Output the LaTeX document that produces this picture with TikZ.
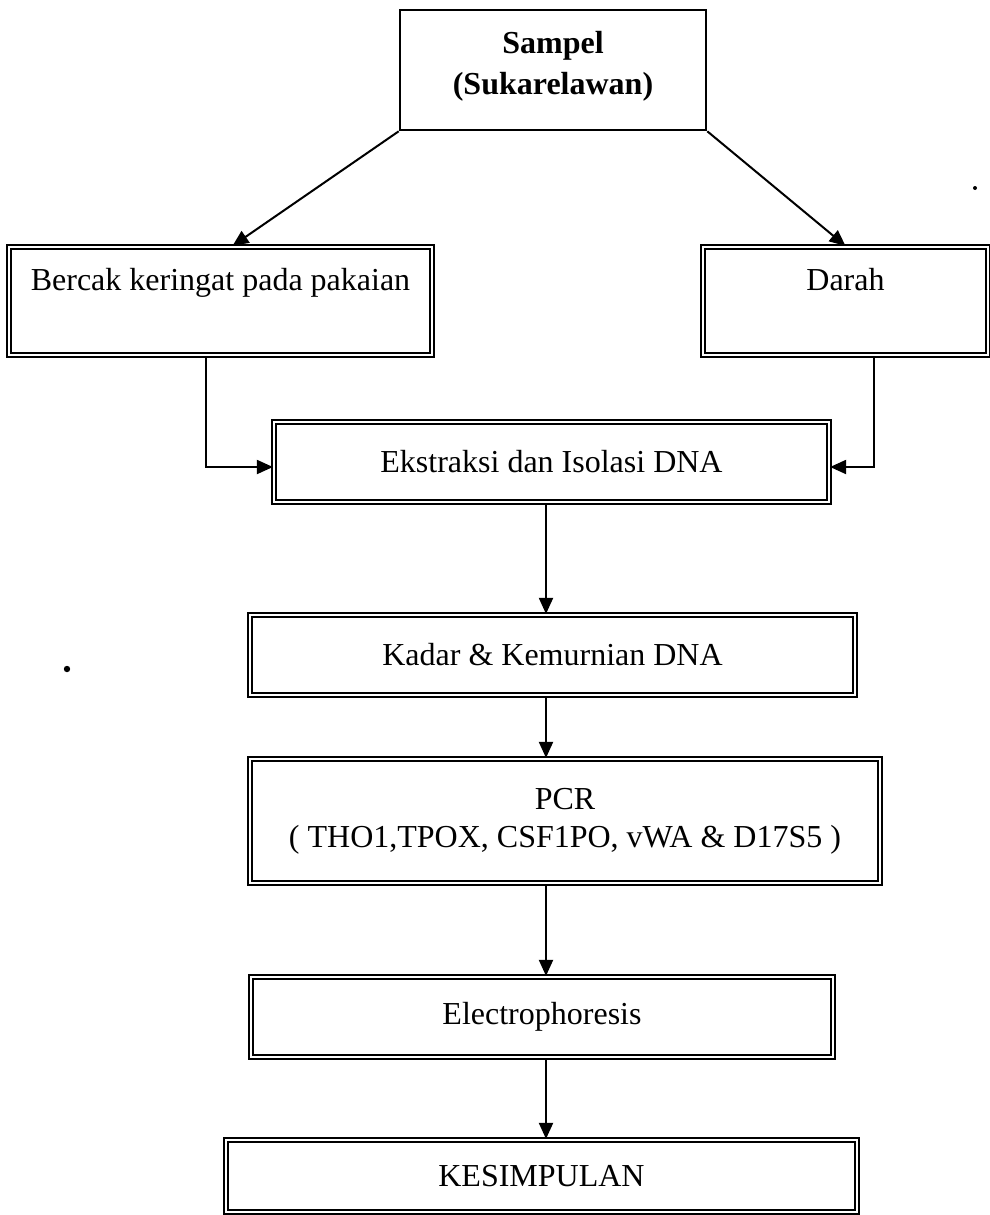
\documentclass[tikz,border=0pt]{standalone}
\usepackage{fontspec}
\setmainfont{Liberation Serif}
\usetikzlibrary{arrows.meta}

\begin{document}
\begin{tikzpicture}[
		x=0.5pt, y=-0.5pt,
		box/.style={draw, line width=1.1pt, double, double distance=1.1pt, inner sep=0pt, align=center,
			font=\fontsize{16}{19}\selectfont},
		topbox/.style={box, text height=11pt, text depth=22pt},
		flow/.style={line width=1pt, -{Triangle[length=8pt,width=7pt]}},
		]
		\useasboundingbox (0,0) rectangle (990,1215);
		
		%boxes
		\node[draw, line width=1.3pt, inner sep=0pt, align=center, minimum width=153pt, minimum height=60pt,
		font=\fontsize{16}{19}\selectfont\bfseries] (sampel) at (553,70) {Sampel\\[1.5pt](Sukarelawan)\\[-12pt]};
		\node[topbox, minimum width=211.5pt, minimum height=54pt] (bercak) at (220.5,301) {Bercak keringat pada pakaian};
		\node[topbox, minimum width=142.5pt, minimum height=54pt] (darah) at (845.5,301) {Darah};
		\node[box, minimum width=277.5pt, minimum height=40pt] (ekstraksi) at (551.5,462) {Ekstraksi dan Isolasi DNA};
		\node[box, minimum width=302.5pt, minimum height=40pt] (kadar) at (552.5,655) {Kadar \& Kemurnian DNA};
		\node[box, minimum width=315pt, minimum height=62pt] (pcr) at (565,821) {PCR\\ ( THO1,TPOX, CSF1PO, vWA \& D17S5 )};
		\node[box, minimum width=291pt, minimum height=40pt] (elektro) at (542,1017) {Electrophoresis};
		\node[box, minimum width=315.5pt, minimum height=36pt] (simpulan) at (541.5,1176) {KESIMPULAN};
		
		%arrows
		\coordinate (mid) at (546,0);
		\draw[flow] (sampel.south west) -- ([xshift=6pt]bercak.north);
		\draw[flow] (sampel.south east) -- (darah.north);
		\draw[flow] ([xshift=-7.5pt]bercak.south) |- ([yshift=-2.5pt]ekstraksi.west);
		\draw[flow] ([xshift=14pt]darah.south) |- ([yshift=-2.5pt]ekstraksi.east);
		\draw[flow] (ekstraksi.south -| mid) -- (kadar.north -| mid);
		\draw[flow] (kadar.south -| mid) -- (pcr.north -| mid);
		\draw[flow] (pcr.south -| mid) -- (elektro.north -| mid);
		\draw[flow] (elektro.south -| mid) -- (simpulan.north -| mid);
		
		%specks
		\fill (67,669) circle (1.6pt);
		\fill (975,188) circle (1pt);
	\end{tikzpicture}
\end{document}
